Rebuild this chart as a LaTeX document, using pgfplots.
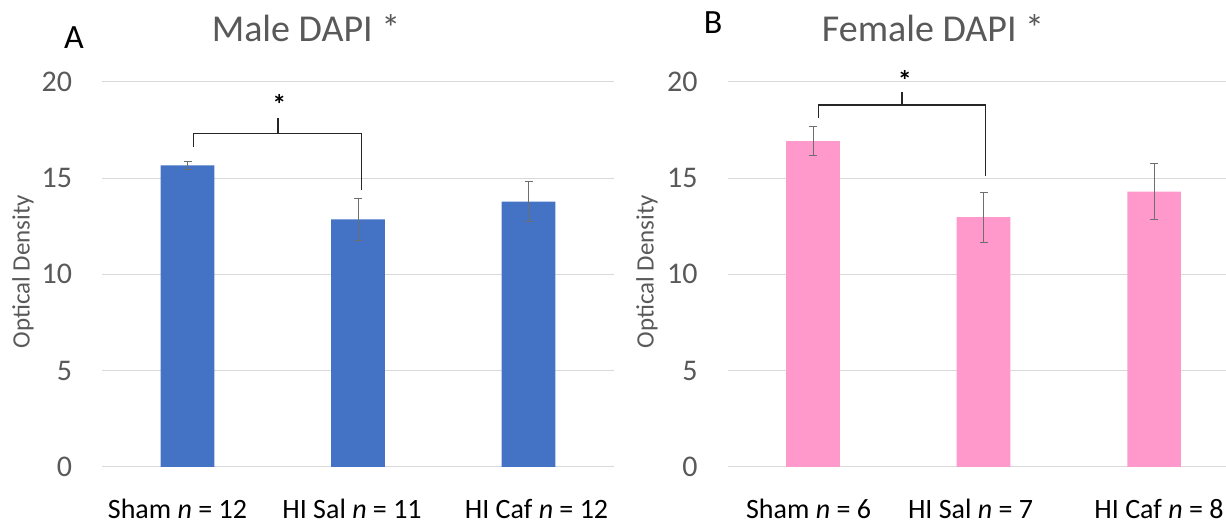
\documentclass[border=0pt]{standalone}
\usepackage{fontspec}
\setmainfont{Carlito}
\usepackage{pgfplots}
\usepackage{pgfplotstable}
\pgfplotsset{compat=1.18}
\definecolor{maleblue}{HTML}{4472C4}
\definecolor{femalepink}{HTML}{FF99CC}
\definecolor{txtgray}{HTML}{595959}
\definecolor{gridgray}{HTML}{D9D9D9}
\definecolor{errgray}{HTML}{6E6E6E}
\definecolor{brk}{HTML}{262626}

\pgfplotstableread{
x y err
0 15.65 0.23
1 12.85 1.09
2 13.77 1.05
}\maledata
\pgfplotstableread{
x y err
0 16.92 0.77
1 12.97 1.30
2 14.29 1.45
}\femaledata

\pgfplotsset{
  dapistyle/.style={
    scale only axis, height=385.3pt, ymin=0, ymax=20, xmin=-0.5,
    axis line style={draw=none},
    ytick={0,5,10,15,20}, ymajorgrids, grid style={gridgray, line width=1pt},
    major tick length=0pt, tick style={draw=none},
    yticklabel style={font=\fontsize{30}{36}\selectfont, text=txtgray, anchor=east, inner sep=0pt, xshift=-30pt},
    xticklabel style={font=\fontsize{28}{34}\selectfont, text=black, anchor=base, inner sep=0pt, yshift=-51.5pt},
    /pgf/number format/assume math mode=true,
    clip=false,
    ylabel={Optical Density},
    ylabel style={font=\fontsize{25}{30}\selectfont, text=txtgray, anchor=center},
  },
  barstyle/.style={ybar, bar width=53.6pt, fill=#1, draw=none,
    error bars/.cd, y dir=both, y explicit,
    error bar style={errgray, line width=0.9pt},
    error mark options={rotate=90, errgray, mark size=4pt, line width=0.9pt}},
}

\begin{document}
\begin{tikzpicture}
\path[use as bounding box] (0,0) rectangle (1226pt,524pt);

\begin{axis}[dapistyle, at={(102.25pt,57pt)}, anchor=south west,
  width=511.5pt, xmax=2.5,
  xtick={-0.059,0.965,2.047},
  xticklabels={Sham \textit{n} = 12, HI Sal \textit{n} = 11, HI Caf \textit{n} = 12},
  ylabel style={at={(axis description cs:-0.155,0.507)}}]
\addplot[barstyle=maleblue] table[x=x, y=y, y error=err]{\maledata};
\draw[brk, line width=1.3pt] (axis cs:0.036,16.62) -- (axis cs:0.036,17.32) -- (axis cs:1.022,17.32) -- (axis cs:1.022,14.37);
\draw[brk, line width=1.3pt] (axis cs:0.530,17.32) -- (axis cs:0.530,18.09);
\node[anchor=base, inner sep=0pt, font=\fontsize{28}{30}\selectfont\bfseries] at (axis cs:0.539,18.32) {*};
\end{axis}

\begin{axis}[dapistyle, at={(727.75pt,57pt)}, anchor=south west,
  width=498.25pt, xmax=2.422,
  xtick={-0.026,0.924,2.029},
  xticklabels={Sham \textit{n} = 6, HI Sal \textit{n} = 7, HI Caf \textit{n} = 8},
  ylabel style={at={(axis description cs:-0.162,0.507)}}]
\addplot[barstyle=femalepink] table[x=x, y=y, y error=err]{\femaledata};
\draw[brk, line width=1.3pt] (axis cs:0.031,18.09) -- (axis cs:0.031,18.79) -- (axis cs:1.011,18.79) -- (axis cs:1.011,15.1);
\draw[brk, line width=1.3pt] (axis cs:0.521,18.79) -- (axis cs:0.521,19.48);
\node[anchor=base, inner sep=0pt, font=\fontsize{28}{30}\selectfont\bfseries] at (axis cs:0.539,19.56) {*};
\end{axis}

\node[anchor=base, text=txtgray, font=\fontsize{38}{42}\selectfont] at (306pt,482pt) {Male DAPI *};
\node[anchor=base, text=txtgray, font=\fontsize{38}{42}\selectfont] at (933pt,482pt) {Female DAPI *};
\node[anchor=base, text=black, font=\fontsize{34}{38}\selectfont] at (74pt,475pt) {A};
\node[anchor=base, text=black, font=\fontsize{34}{38}\selectfont] at (713pt,490pt) {B};
\end{tikzpicture}
\end{document}
